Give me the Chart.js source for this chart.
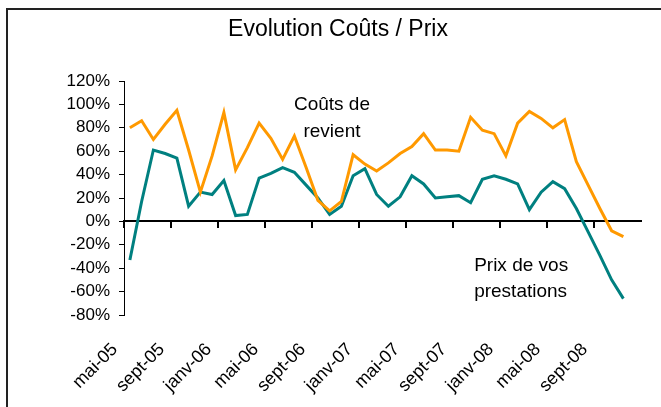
<!DOCTYPE html>
<html>
<head>
<meta charset="utf-8">
<script src="https://cdn.jsdelivr.net/npm/chart.js@4/dist/chart.umd.min.js"></script>
<style>
  html, body { margin: 0; padding: 0; background: #fff; }
  #wrap { position: relative; width: 661px; height: 407px; overflow: hidden; }
  #frame { position: absolute; left: 6px; top: 8px; width: 700px; height: 420px;
           border-left: 2px solid #222; border-top: 2px solid #222; box-sizing: border-box; pointer-events: none; }
  canvas { position: absolute; left: 0; top: 0; }
</style>
</head>
<body>
<div id="wrap">
  <div id="frame"></div>
  <canvas id="c" width="661" height="407"></canvas>
</div>
<script>
const months = [
  'mai-05','juin-05','juil-05','août-05','sept-05','oct-05','nov-05','déc-05',
  'janv-06','févr-06','mars-06','avr-06','mai-06','juin-06','juil-06','août-06','sept-06','oct-06','nov-06','déc-06',
  'janv-07','févr-07','mars-07','avr-07','mai-07','juin-07','juil-07','août-07','sept-07','oct-07','nov-07','déc-07',
  'janv-08','févr-08','mars-08','avr-08','mai-08','juin-08','juil-08','août-08','sept-08','oct-08','nov-08','déc-08'
];
const coutsDeRevient = [80, 86, 70, 83, 95, 61, 25, 56, 93, 44, 63, 84, 71, 53, 73, 46, 18, 9, 17, 57, 49, 43, 50, 58,
  64, 75, 61, 61, 60, 89, 78, 75, 56, 84, 94, 88, 80, 87, 51, 31, 11, -8, -13, null];
const prixPrestations = [-33, 17, 61, 58, 54, 13, 25, 23, 35, 5, 6, 37, 41, 46, 42, 31, 20, 6, 13, 39, 45, 23, 13, 21,
  39, 32, 20, 21, 22, 16, 36, 39, 36, 32, 10, 25, 34, 28, 11, -9, -29, -50, -66, null];
const yTicks = [-80, -60, -40, -20, 0, 20, 40, 60, 80, 100, 120];
const titleText = 'Evolution Coûts / Prix';
const noteCouts = ['Coûts de', 'revient'];
const notePrix = ['Prix de vos', 'prestations'];

const FONT = "'Liberation Sans', Arial, sans-serif";

const notesPlugin = {
  id: 'notes',
  afterDatasetsDraw(chart) {
    const ctx = chart.ctx, x = chart.scales.x, y = chart.scales.y;
    ctx.save();
    ctx.fillStyle = '#000';
    ctx.font = '19px ' + FONT;
    ctx.textBaseline = 'middle';
    ctx.textAlign = 'center';
    const cx = x.getPixelForValue(17.2);
    ctx.fillText(noteCouts[0], cx, y.getPixelForValue(100));
    ctx.fillText(noteCouts[1], cx, y.getPixelForValue(77));
    ctx.textAlign = 'left';
    const px = x.getPixelForValue(29.3);
    ctx.fillText(notePrix[0], px, y.getPixelForValue(-38));
    ctx.fillText(notePrix[1], px, y.getPixelForValue(-60));
    ctx.restore();
  }
};

new Chart(document.getElementById('c'), {
  type: 'line',
  data: {
    labels: months,
    datasets: [
      { label: 'Coûts de revient', data: coutsDeRevient, borderColor: '#FF9900', backgroundColor: '#FF9900',
        borderWidth: 3, pointRadius: 0, tension: 0, xAxisID: 'x', yAxisID: 'y' },
      { label: 'Prix de vos prestations', data: prixPrestations, borderColor: '#008080', backgroundColor: '#008080',
        borderWidth: 3, pointRadius: 0, tension: 0, xAxisID: 'x', yAxisID: 'y' }
    ]
  },
  options: {
    responsive: false,
    devicePixelRatio: 1,
    animation: false,
    layout: { padding: { left: 35, right: 20, top: 0, bottom: 0 } },
    plugins: {
      legend: { display: false },
      tooltip: { enabled: false },
      title: { display: true, text: titleText, color: '#000',
        font: { family: FONT, size: 23, weight: 'normal' }, padding: { top: 16.2, bottom: 37.2 } }
    },
    scales: {
      x: {
        type: 'category', position: 'bottom', offset: true,
        grid: { display: false }, border: { display: false },
        ticks: { autoSkip: false, minRotation: 45, maxRotation: 45, color: '#000', padding: 16, labelOffset: -15,
          font: { family: FONT, size: 18 },
          callback: function (v, i) { return i % 4 === 0 ? months[i] : ''; } },
        afterFit(s) { s.height = 92; s.paddingRight = 0; s.paddingLeft = 0; }
      },
      x2: {
        type: 'category', position: { y: 0 }, offset: true,
        grid: { offset: true, drawOnChartArea: false, drawTicks: true, tickLength: 6,
          color: (c) => (c.index % 4 === 0 ? '#000' : 'rgba(0,0,0,0)'), lineWidth: 2 },
        border: { display: true, color: '#000', width: 2 },
        ticks: { display: false, autoSkip: false }
      },
      y: {
        type: 'linear', position: 'left', min: -80, max: 120,
        afterBuildTicks(s) { s.ticks = yTicks.map(v => ({ value: v })); },
        grid: { drawOnChartArea: false, drawTicks: true, tickLength: 5, color: '#000', lineWidth: 1 },
        border: { display: true, color: '#000', width: 1 },
        ticks: { color: '#000', padding: 9, font: { family: FONT, size: 17 },
          callback: (v) => v + '%' },
        afterFit(s) { s.width = 89; }
      }
    }
  },
  plugins: [notesPlugin]
});
</script>
</body>
</html>
